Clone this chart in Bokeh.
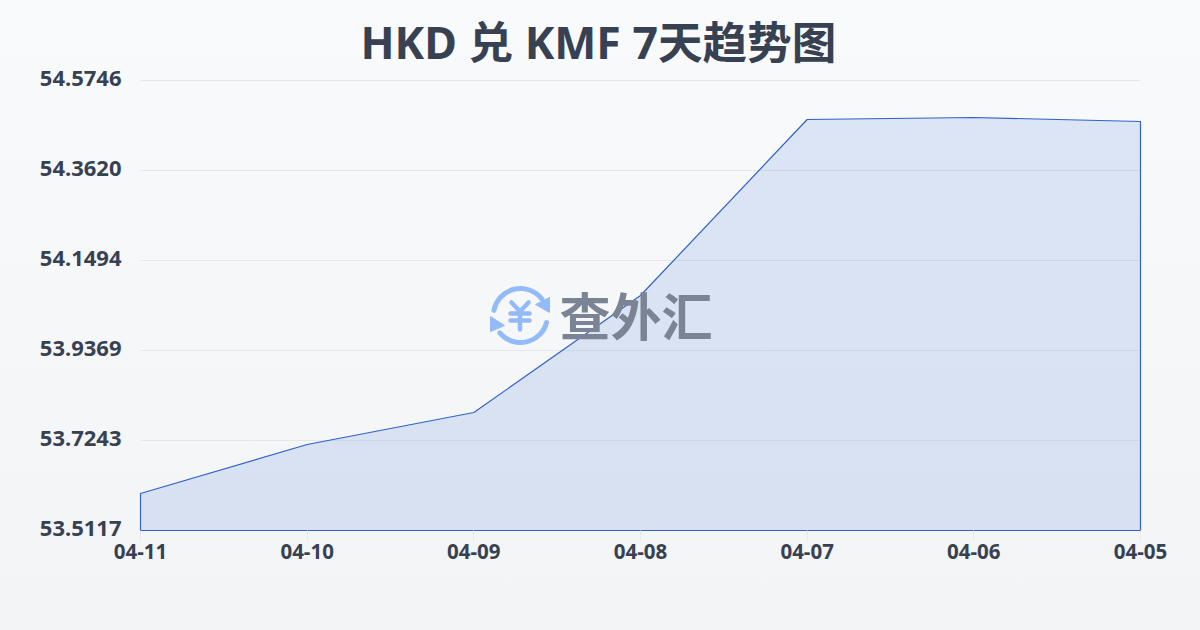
from bokeh.plotting import figure
from bokeh.embed import file_html
from bokeh.resources import INLINE
from bokeh.models import FixedTicker, Range1d, Label
import math

dates = ["04-11", "04-10", "04-09", "04-08", "04-07", "04-06", "04-05"]
rates = [53.5991, 53.7148, 53.7904, 54.0668, 54.4825, 54.4872, 54.4778]
y_ticks = [53.5117, 53.7243, 53.9369, 54.1494, 54.3620, 54.5746]
title_text = "HKD 兑 KMF 7天趋势图"
watermark = "查外汇"

FONT = "'Noto Sans', 'Noto Sans CJK SC', sans-serif"
INK = "#374151"
W, H = 1200, 630
# plot area 140..1140 x 80..530, with a 10px pad so edge lines are not clipped
PAD = 10
FL, FR, FT, FB = 140 - PAD, 1140 + PAD, 80 - PAD, 530 + PAD
x_idx = list(range(len(dates)))
kx = (len(dates) - 1) / 1000
ky = (y_ticks[-1] - y_ticks[0]) / 450

p = figure(width=W, height=H, output_backend="svg", toolbar_location=None,
           x_range=Range1d(-PAD * kx, len(dates) - 1 + PAD * kx),
           y_range=Range1d(y_ticks[0] - PAD * ky, y_ticks[-1] + PAD * ky),
           min_border_left=FL, min_border_right=W - FR, min_border_top=FT, min_border_bottom=H - FB)
p.background_fill_alpha = 0
p.border_fill_alpha = 0
p.outline_line_color = None

p.title.text = title_text
p.title.align = "left"
p.title.text_font = FONT
p.title.text_font_style = "bold"
p.title.text_font_size = "44.6px"
p.title.text_color = INK
p.title.standoff = -3
p.title.offset = 230

p.extra_y_ranges = {"labels": Range1d(y_ticks[0] - (PAD + 2) * ky, y_ticks[-1] + (PAD - 2) * ky)}
p.xaxis.ticker = FixedTicker(ticks=x_idx)
p.xaxis.major_label_overrides = {i: d for i, d in zip(x_idx, dates)}
p.yaxis[0].y_range_name = "labels"
p.yaxis.ticker = FixedTicker(ticks=y_ticks)
p.yaxis.major_label_overrides = {v: f"{v:.4f}" for v in y_ticks}
for ax in (p.xaxis[0], p.yaxis[0]):
    ax.axis_line_color = None
    ax.minor_tick_line_color = None
    ax.major_label_text_font = FONT
    ax.major_label_text_font_style = "bold"
    ax.major_label_text_color = INK
p.xaxis.major_tick_line_color = "#e5e7eb"
p.xaxis.major_tick_in = 10
p.xaxis.major_tick_out = 0
p.xaxis.major_label_standoff = 3
p.xaxis.major_label_text_font_size = "20.5px"
p.yaxis.major_tick_line_color = None
p.yaxis.major_label_standoff = 3
p.yaxis.major_label_text_font_size = "22px"
p.xgrid.grid_line_color = None
p.ygrid.grid_line_color = None
p.segment(x0=[x_idx[0]] * len(y_ticks), x1=[x_idx[-1]] * len(y_ticks), y0=y_ticks, y1=y_ticks,
          line_color="#e5e7eb", line_width=1)

def sx(px):
    return (px - 140) * kx
def sy(py):
    return y_ticks[-1] - (py - 80) * ky

# watermark icon
ICON = "#93bbf7"
cx, cy, rr = 520, 315, 27
p.arc([sx(cx)], [sy(cy)], radius=rr, radius_units="screen",
      start_angle=math.radians(38), end_angle=math.radians(169),
      line_color=ICON, line_width=5, line_cap="round")
p.arc([sx(cx)], [sy(cy)], radius=rr, radius_units="screen",
      start_angle=math.radians(220), end_angle=math.radians(345),
      line_color=ICON, line_width=5, line_cap="round")
p.patch([sx(549), sx(549), sx(535)], [sy(297), sy(312), sy(304)], color=ICON, line_color=ICON)
p.patch([sx(490), sx(490), sx(504)], [sy(316), sy(331), sy(325)], color=ICON, line_color=ICON)
yen_xs = [[sx(511), sx(519.5), sx(528)], [sx(510), sx(529)], [sx(510), sx(529)], [sx(519.5), sx(519.5)]]
yen_ys = [[sy(302), sy(311), sy(302)], [sy(313), sy(313)], [sy(320), sy(320)], [sy(311), sy(329)]]
p.multi_line(yen_xs, yen_ys, line_color=ICON, line_width=4.5, line_cap="round", line_join="round")
p.add_layout(Label(x=sx(559), y=sy(315), text=watermark, text_font=FONT, text_font_style="bold",
                   text_font_size="51px", text_color="#7b8494", text_align="left", text_baseline="middle"))

p.varea(x_idx, [y_ticks[0]] * len(x_idx), rates, fill_color="#3b72d9", fill_alpha=0.15)
p.patch(x_idx + [x_idx[-1], x_idx[0]], rates + [y_ticks[0], y_ticks[0]],
        fill_alpha=0, line_color="#2f62c8", line_width=1.2)

html = file_html(p, INLINE)
css = "<style>html{min-height:100%;background:linear-gradient(180deg,#f8fafc 0%,#f3f4f6 100%);}body{background:transparent;margin:0;}</style>"
html = html.replace("</head>", css + "</head>", 1)
open("out.html", "w").write(html)
